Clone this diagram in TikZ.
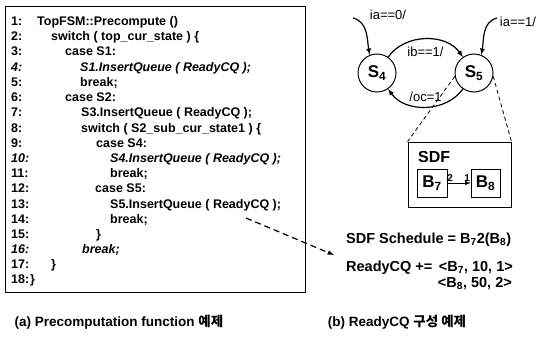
\documentclass[tikz,border=0pt]{standalone}
\usepackage{fontspec}
\setmainfont{Liberation Sans}
\newfontfamily\krfont{Noto Sans CJK KR}
\usetikzlibrary{arrows,automata}

\begin{document}
\begin{tikzpicture}[x=1pt, y=-1pt, >=latex,
  code/.style={anchor=base west, inner sep=0pt, font=\fontsize{12.5}{14}\selectfont\bfseries},
  icode/.style={code, font=\fontsize{12.5}{14}\selectfont\bfseries\itshape},
  lbl/.style={font=\fontsize{13}{15}\selectfont, inner sep=1pt},
  every state/.style={draw, line width=1pt, minimum size=38pt, inner sep=0pt, font=\fontsize{17}{19}\selectfont\bfseries},
  blk/.style={draw, inner sep=0pt, font=\fontsize{17}{19}\selectfont\bfseries},
  res/.style={inner sep=0pt, font=\fontsize{14.5}{17}\selectfont\bfseries},
  captext/.style={font=\fontsize{13.5}{16}\selectfont\bfseries},
  arc/.style={->, line width=1.2pt}]
  \useasboundingbox (0,0) rectangle (543,342);

  % code listing
  \node[draw, line width=0.9pt, minimum width=300pt, minimum height=286pt] (box) at (155,149) {};
  \node[code]  (n1)  at (11,26)    {1:};   \node[code]  (c1)  at (37,26)    {TopFSM::Precompute ()};
  \node[code]  (n2)  at (11,41)    {2:};   \node[code]  (c2)  at (51,41)    {switch ( top\_cur\_state ) \{};
  \node[code]  (n3)  at (11,56)    {3:};   \node[code]  (c3)  at (65,56)    {case S1:};
  \node[icode] (n4)  at (11,71.5)  {4:};   \node[icode] (c4)  at (80,71.5)  {S1.InsertQueue ( ReadyCQ );};
  \node[code]  (n5)  at (11,86.5)  {5:};   \node[code]  (c5)  at (80,86.5)  {break;};
  \node[code]  (n6)  at (11,102)   {6:};   \node[code]  (c6)  at (65,102)   {case S2:};
  \node[code]  (n7)  at (11,117)   {7:};   \node[code]  (c7)  at (81,117)   {S3.InsertQueue ( ReadyCQ );};
  \node[code]  (n8)  at (11,132)   {8:};   \node[code]  (c8)  at (81,132)   {switch ( S2\_sub\_cur\_state1 ) \{};
  \node[code]  (n9)  at (11,147)   {9:};   \node[code]  (c9)  at (96,147)   {case S4:};
  \node[icode] (n10) at (11,162.5) {10:};  \node[icode] (c10) at (110,162.5) {S4.InsertQueue ( ReadyCQ );};
  \node[code]  (n11) at (11,177.5) {11:};  \node[code]  (c11) at (110,177.5) {break;};
  \node[code]  (n12) at (11,192.5) {12:};  \node[code]  (c12) at (95,192.5) {case S5:};
  \node[code]  (n13) at (11,208)   {13:};  \node[code]  (c13) at (110,208)  {S5.InsertQueue ( ReadyCQ );};
  \node[code]  (n14) at (11,223)   {14:};  \node[code]  (c14) at (110,223)  {break;};
  \node[code]  (n15) at (11,238)   {15:};  \node[code]  (c15) at (96,238)   {\}};
  \node[icode] (n16) at (11,253)   {16:};  \node[icode] (c16) at (82,253)   {break;};
  \node[code]  (n17) at (11,268.5) {17:};  \node[code]  (c17) at (51,268.5) {\}};
  \node[code]  (n18) at (11,283.5) {18:};  \node[code]  (c18) at (30,283.5) {\}};

  % state machine
  \node[state] (s4) at (377,73) {S\textsubscript{4}};
  \node[state] (s5) at (474,73) {S\textsubscript{5}};
  \coordinate (i4) at (353,18);
  \coordinate (i5) at (497,18);
  \node[lbl] (ia0) at (388,15) {ia==0/};
  \node[lbl] (ia1) at (518,22) {ia==1/};

  \path (i4) edge[arc, out=-15, in=100] (s4.112)
        (i5) edge[arc, out=195, in=80]  (s5.68)
        (s4) edge[arc, out=55, in=125]  node[lbl, below=6pt] {ib==1/} (s5)
        (s5) edge[arc, out=235, in=305] node[lbl, above=4pt] {/oc=1} (s4);

  % SDF graph
  \node[draw, line width=0.9pt, minimum width=103pt, minimum height=65pt] (sdf) at (459.5,174.5) {};
  \node[anchor=base west, inner sep=0pt, font=\fontsize{16}{18}\selectfont\bfseries] (sdft) at (418,162.5) {SDF};
  \node[blk, minimum width=30pt, minimum height=28pt] (b7) at (432,183) {B\textsubscript{7}};
  \node[blk, minimum width=29pt, minimum height=28pt] (b8) at (485.5,183) {B\textsubscript{8}};
  \draw[->, line width=1pt] (b7) -- (b8)
    node[pos=0.12, above, inner sep=1pt, font=\fontsize{10}{12}\selectfont\bfseries] {2}
    node[pos=0.85, above, inner sep=1pt, font=\fontsize{10}{12}\selectfont\bfseries] {1};

  \draw[dash pattern=on 4pt off 3pt, line width=0.8pt] (s5.190) -- (sdf.north west);
  \draw[dash pattern=on 4pt off 3pt, line width=0.8pt] (s5.-10) -- (sdf.north east);

  % schedule and queue
  \node[res, anchor=base west] (sched) at (346,243) {SDF Schedule = B\textsubscript{7}2(B\textsubscript{8})};
  \node[res, anchor=base west] (rcq)   at (346,271) {ReadyCQ +=};
  \node[res, anchor=base east] (q7)    at (513,271) {<B\textsubscript{7}, 10, 1>};
  \node[res, anchor=base east] (q8)    at (512,287) {<B\textsubscript{8}, 50, 2>};

  \coordinate (da) at (246,218);
  \coordinate (db) at (334,255);
  \draw[-latex, dash pattern=on 6pt off 4pt, line width=1.2pt] (da) -- (db);

  % captions
  \node[captext] (capa) at (119,322) {(a) Precomputation function {\krfont 예제}};
  \node[captext] (capb) at (397,322) {(b) ReadyCQ {\krfont 구성 예제}};
\end{tikzpicture}
\end{document}
